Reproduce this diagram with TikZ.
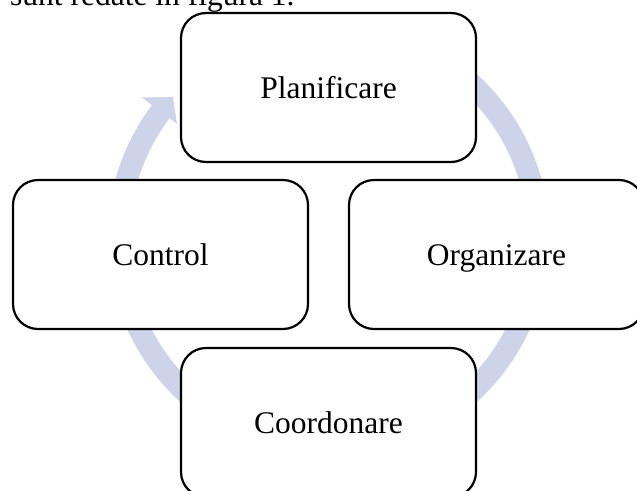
\documentclass[tikz,border=0pt]{standalone}
\usepackage{fontspec}
\setmainfont{Liberation Serif}
\usetikzlibrary{calc}

\definecolor{ringblue}{RGB}{205,212,234}

\tikzset{
  phase/.style={draw=black, line width=2.2pt, fill=white, rounded corners=25pt,
    minimum width=295pt, minimum height=149pt, inner sep=0pt,
    text height=21pt, text depth=0pt,
    font=\fontsize{31.5}{36}\selectfont},
  bodytext/.style={inner sep=0pt, anchor=base west,
    font=\fontsize{31.5}{36}\selectfont},
}

\begin{document}
\begin{tikzpicture}[x=1pt,y=1pt]
  \useasboundingbox (0,0) rectangle (637,-490);
  \clip (0,0) rectangle (637,-490);

  % line of body text above the figure
  \node[bodytext] (intro) at (10,-5) {sunt redate în figura 1.};

  % continuous circular arrow behind the phases
  \coordinate (C) at (328.5,-238);
  \fill[ringblue]
    ($(C)+(80:221)$) arc[start angle=80, end angle=-217, radius=221]
    -- ($(C)+(-217:233.6)$)
    -- ($(C)+(-222.2:210)$)
    -- ($(C)+(-217:189.8)$)
    -- ($(C)+(-217:199)$) arc[start angle=-217, end angle=80, radius=199]
    -- cycle;

  % the four phases of the cycle
  \node[phase] (plan)  at (328.5,-87.5)  {Planificare};
  \node[phase] (org)   at (496.5,-254.5) {Organizare};
  \node[phase] (ctrl)  at (160.5,-254.5) {Control};
  \node[phase] (coord) at (328.5,-422.5) {Coordonare};
\end{tikzpicture}
\end{document}
